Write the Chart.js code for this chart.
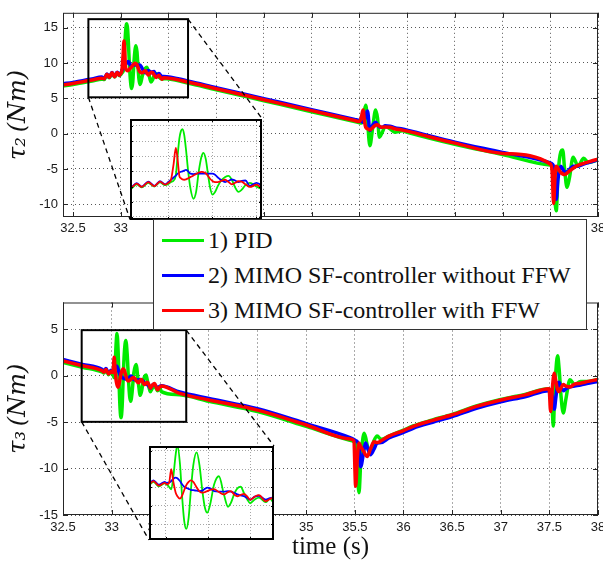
<!DOCTYPE html>
<html>
<head>
<meta charset="utf-8">
<script src="https://cdn.jsdelivr.net/npm/chart.js@4.4.1/dist/chart.umd.min.js"></script>
<style>
  html, body { margin: 0; padding: 0; background: #fff; overflow: hidden; }
  #fig { position: relative; width: 603px; height: 562px; overflow: hidden; background: #fff; }
  #fig canvas { position: absolute; }
  #legend { position: absolute; left: 153px; top: 219px; width: 432px; height: 109px;
            border: 1px solid #333; background: #fff; color: #111;
            font-family: "Liberation Serif", "Times New Roman", serif; font-size: 24px; }
  #legend .row { position: absolute; left: 0; height: 30px; line-height: 30px; white-space: nowrap; }
  #legend .row i { position: absolute; left: 8px; top: 14px; width: 42px; height: 3px; }
  #legend .row span { position: absolute; left: 54px; top: 0; }
</style>
</head>
<body>
<div id="fig">
  <canvas id="top" width="620" height="245" style="left:0;top:0;width:620px;height:245px"></canvas>
  <canvas id="bottom" width="620" height="312" style="left:0;top:250px;width:620px;height:312px"></canvas>
  <canvas id="insetTop"></canvas>
  <canvas id="insetBottom"></canvas>
  <div id="legend"></div>
</div>
<script>
// ---------- joint 2 torque τ2 (Nm) ----------
const t2 = [32.395, 32.5, 32.6, 32.7, 32.8,
  32.826, 32.856, 32.879, 32.909, 32.936, 32.962, 32.985, 33.0, 33.012, 33.024,
  33.034, 33.042, 33.05, 33.057, 33.064, 33.072, 33.08, 33.09, 33.1, 33.114,
  33.126, 33.138, 33.15, 33.159, 33.17, 33.18, 33.19, 33.2, 33.212, 33.225,
  33.24, 33.258, 33.273, 33.288, 33.303, 33.318, 33.333, 33.35, 33.37, 33.4,
  33.43, 33.45, 33.7, 34.0, 34.5, 35.0, 35.45, 35.5, 35.52, 35.539,
  35.553, 35.567, 35.585, 35.61, 35.64, 35.67, 35.69, 35.71, 35.74, 35.77,
  35.82, 35.87, 35.95, 36.0, 36.5, 37.0, 37.5, 37.52, 37.535, 37.55,
  37.563, 37.58, 37.61, 37.63, 37.65, 37.675, 37.7, 37.74, 37.79, 37.85,
  37.9, 38.0];
const pid2 = [6.75, 6.95, 7.2, 7.45, 7.7,
  7.65, 8.3, 7.9, 8.5, 8.0, 8.55, 8.2, 8.35, 8.6, 8.8,
  9.5, 12.0, 14.3, 15.3, 15.55, 14.8, 12.9, 10.0, 7.8, 6.4,
  7.3, 10.0, 11.9, 12.45, 11.6, 9.6, 7.8, 6.95, 7.3, 8.1,
  8.8, 9.25, 9.4, 8.9, 7.9, 7.3, 7.6, 8.2, 8.5, 8.0,
  7.7, 7.8, 7.15, 6.2, 4.65, 3.1, 1.7, 1.55, 1.5, 2.0,
  3.3, 4.0, 1.8, -1.7, 0.9, 3.35, 2.2, -0.5, 0.2, 1.0,
  0.7, 0.2, 0.4, 0.2, -1.5, -2.95, -4.45, -4.5, -5.0, -9.5,
  -10.9, -6.0, -2.6, -2.3, -5.0, -7.6, -6.3, -3.35, -4.6, -3.5,
  -4.1, -3.7];
const sfNoFfw2 = [7.05, 7.25, 7.5, 7.75, 8.0,
  7.8, 8.45, 8.0, 8.65, 8.1, 8.7, 8.3, 8.6, 8.9, 9.2,
  9.45, 9.7, 9.85, 9.95, 10.0, 10.1, 10.2, 10.0, 9.7, 9.65,
  9.7, 9.7, 9.7, 9.7, 9.7, 9.7, 9.7, 9.7, 9.55, 9.2,
  8.85, 8.6, 8.75, 8.95, 8.8, 8.6, 8.75, 8.8, 8.1, 8.5,
  8.1, 8.1, 7.45, 6.5, 4.95, 3.4, 2.0, 1.85, 1.75, 1.6,
  1.9, 2.6, 3.2, 0.45, 1.2, 1.6, 1.3, 0.95, 0.9, 1.1,
  1.05, 0.85, 0.65, 0.5, -1.2, -2.65, -4.15, -4.3, -4.8, -8.0,
  -9.3, -6.5, -4.6, -5.0, -5.5, -5.4, -5.1, -4.6, -4.6, -4.3,
  -4.1, -3.7];
const sfFfw2 = [6.9, 7.1, 7.35, 7.6, 7.85,
  7.75, 8.4, 7.95, 8.6, 8.05, 8.65, 8.25, 8.5, 8.9, 11.0,
  13.1, 11.6, 9.4, 9.1, 8.95, 8.9, 8.95, 9.1, 9.25, 9.45,
  9.65, 9.85, 9.95, 9.9, 9.75, 9.4, 9.0, 8.75, 8.6, 8.6,
  8.75, 8.9, 8.6, 8.3, 8.5, 8.7, 8.65, 8.3, 7.95, 8.25,
  7.7, 7.9, 7.3, 6.35, 4.8, 3.25, 1.85, 1.7, 2.3, 3.35,
  1.8, 0.9, 0.7, 0.55, 0.85, 1.2, 1.25, 1.05, 0.9, 0.95,
  0.9, 0.7, 0.5, 0.35, -1.35, -2.8, -4.3, -5.5, -9.9, -6.0,
  -4.6, -4.9, -5.5, -5.7, -5.8, -5.6, -5.3, -4.9, -4.5, -4.2,
  -4.0, -3.6];

// ---------- joint 3 torque τ3 (Nm) ----------
const t3 = [32.5, 32.7, 32.9,
  32.921, 32.942, 32.968, 32.995, 33.006, 33.016, 33.026, 33.036, 33.047, 33.055,
  33.067, 33.077, 33.087, 33.097, 33.108, 33.118, 33.13, 33.146, 33.16, 33.173,
  33.185, 33.196, 33.21, 33.228, 33.251, 33.275, 33.294, 33.307, 33.325, 33.338,
  33.354, 33.369, 33.385, 33.398, 33.42, 33.44, 33.472, 33.492, 33.511,
  33.7, 34.0, 34.5, 35.0, 35.45, 35.49, 35.509, 35.525, 35.543, 35.56,
  35.594, 35.61, 35.628, 35.66, 35.697, 35.73, 35.77, 35.85, 36.0, 36.1,
  36.3, 36.5, 36.75, 37.0, 37.25, 37.497, 37.513, 37.53, 37.541, 37.551,
  37.565, 37.585, 37.6, 37.62, 37.643, 37.67, 37.712, 37.76, 37.82, 37.9,
  38.0];
const pid3 = [1.45, 0.93, 0.42,
  0.3, 0.6, 0.12, 0.45, 0.3, 0.05, -0.2, 1.2, 3.6, 4.57,
  2.6, -0.9, -3.6, -4.5, -3.3, -0.5, 2.4, 3.8, 2.3, -0.4,
  -2.2, -2.74, -1.8, 0.3, 1.22, -0.8, -2.1, -1.7, -0.6, -0.1,
  0.08, -0.6, -1.3, -1.71, -1.3, -1.1, -1.6, -1.2, -1.7,
  -2.05, -2.75, -3.85, -5.45, -6.95, -7.1, -7.6, -10.0, -12.6, -9.5,
  -6.2, -6.6, -7.5, -8.2, -7.0, -6.5, -6.85, -6.5, -5.85, -5.4,
  -4.75, -4.15, -3.25, -2.55, -2.0, -1.4, -2.0, -3.8, -5.4, -3.0,
  0.2, 2.15, 0.8, -2.2, -4.0, -2.5, -0.43, -0.95, -0.6, -0.6,
  -0.4];
const sfNoFfw3 = [1.75, 1.23, 0.7,
  0.5, 0.78, 0.3, 0.6, 0.5, 0.55, 0.7, 0.95, 1.07, 1.0,
  0.7, 0.35, 0.08, -0.05, -0.15, -0.25, -0.3, -0.35, -0.4, -0.35,
  -0.15, -0.02, -0.1, -0.4, -0.45, -0.45, -0.4, -0.45, -0.6, -0.75,
  -0.85, -0.95, -1.15, -1.33, -1.0, -0.9, -1.33, -1.15, -1.07,
  -1.75, -2.45, -3.55, -5.15, -6.65, -6.85, -7.0, -7.1, -7.6, -9.8,
  -8.0, -7.25, -7.7, -8.5, -7.9, -7.25, -7.2, -6.7, -6.1, -5.65,
  -5.0, -4.4, -3.5, -2.8, -2.25, -1.6, -1.7, -2.2, -3.0, -3.6,
  -2.5, -0.9, -0.7, -1.2, -1.6, -1.4, -1.2, -1.1, -1.0, -0.8,
  -0.6];
const sfFfw3 = [1.6, 1.08, 0.56,
  0.38, 0.69, 0.19, 0.5, 0.35, 0.5, 2.0, 0.6, -0.57, -0.95,
  -1.22, -0.9, -0.3, 0.25, 0.6, 0.76, 0.6, 0.0, -0.45, -0.57,
  -0.5, -0.4, -0.25, -0.19, -0.5, -0.76, -0.5, -0.4, -0.8, -0.95,
  -0.8, -0.69, -1.0, -1.33, -1.0, -0.84, -1.5, -1.25, -1.1,
  -1.9, -2.6, -3.7, -5.3, -6.8, -7.0, -11.9, -9.0, -7.25, -7.6,
  -8.2, -8.5, -8.7, -7.9, -7.1, -7.2, -7.0, -6.5, -5.9, -5.45,
  -4.8, -4.2, -3.3, -2.6, -2.05, -1.4, -3.85, -1.5, -0.2, 0.28,
  -0.5, -1.5, -1.7, -1.3, -0.95, -1.1, -1.2, -0.9, -0.8, -0.6,
  -0.4];

// ---------- axis ticks ----------
const timeTicks = [32.5, 33, 33.5, 34, 34.5, 35, 35.5, 36, 36.5, 37, 37.5, 38];
const tau2Ticks = [-10, -5, 0, 5, 10, 15];
const tau3Ticks = [-15, -10, -5, 0, 5];
const insetTimeTicks = [33.0, 33.2, 33.4];
const insetTau2Ticks = [4, 6, 8, 10, 12, 14, 16];
const insetTau3Ticks = [-4, -2, 0, 2, 4];

const seriesNames = ['1) PID', '2) MIMO SF-controller without FFW', '3) MIMO SF-controller with FFW'];

// ---------- styling ----------
const GREEN = 'rgb(0,235,0)', BLUE = '#0000ff', RED = '#ff0000';
const seriesColors = [GREEN, BLUE, RED];
const GRID = 'rgba(30,30,30,0.75)';
const INSET_GRID = 'rgba(60,60,60,0.45)';
const SERIF = '"Liberation Serif", "Times New Roman", serif';
const MATH = '"DejaVu Serif", "Liberation Serif", serif';

// inset panels (page pixels)
const insetTopBox = {left: 130, top: 118.5, width: 132, height: 101};
const insetBottomBox = {left: 149, top: 446, width: 125, height: 94};

Chart.defaults.font.family = '"Liberation Sans", Arial, sans-serif';
Chart.defaults.color = '#1a1a1a';
Chart.defaults.animation = false;
Chart.defaults.events = [];
Chart.defaults.plugins.legend.display = false;
Chart.defaults.plugins.tooltip.enabled = false;

// axes box with inward tick marks, optional background
const framePlugin = {
  id: 'frame',
  defaults: {color: '#262626', width: 1, tick: 0, background: null},
  beforeDraw(chart, args, o) {
    if (!o.background) return;
    const {ctx, chartArea: a} = chart;
    ctx.save();
    ctx.fillStyle = o.background;
    ctx.fillRect(a.left, a.top, a.width, a.height);
    ctx.restore();
  },
  afterDraw(chart, args, o) {
    const {ctx, chartArea: a, scales: {x, y}} = chart;
    ctx.save();
    if (o.tick) {
      ctx.strokeStyle = o.color;
      ctx.lineWidth = 1;
      ctx.beginPath();
      x.ticks.forEach(tk => {
        const px = Math.round(x.getPixelForValue(tk.value)) + 0.5;
        ctx.moveTo(px, a.bottom); ctx.lineTo(px, a.bottom - o.tick);
        ctx.moveTo(px, a.top); ctx.lineTo(px, a.top + o.tick);
      });
      y.ticks.forEach(tk => {
        const py = Math.round(y.getPixelForValue(tk.value)) + 0.5;
        ctx.moveTo(a.left, py); ctx.lineTo(a.left + o.tick, py);
        ctx.moveTo(a.right, py); ctx.lineTo(a.right - o.tick, py);
      });
      ctx.stroke();
    }
    ctx.strokeStyle = o.color;
    ctx.lineWidth = o.width;
    const h = o.width / 2;
    ctx.strokeRect(a.left + h, a.top + h, a.width - o.width, a.height - o.width);
    ctx.restore();
  }
};

// zoom window marker with dashed leaders to the magnified panel
const zoomPlugin = {
  id: 'zoomMark',
  defaults: {box: null, inset: null, origin: [0, 0]},
  afterDraw(chart, args, o) {
    if (!o.box) return;
    const {ctx, scales: {x, y}} = chart;
    const [x0, x1, y0, y1] = o.box;
    const L = x.getPixelForValue(x0), R = x.getPixelForValue(x1);
    const T = y.getPixelForValue(y1), B = y.getPixelForValue(y0);
    const ins = o.inset, [ox, oy] = o.origin;
    ctx.save();
    ctx.strokeStyle = '#000';
    ctx.lineWidth = 1.3;
    ctx.setLineDash([5, 4]);
    ctx.beginPath();
    ctx.moveTo(R, T); ctx.lineTo(ins.left + ins.width - ox, ins.top - oy);
    ctx.moveTo(L, B); ctx.lineTo(ins.left - ox, ins.top + ins.height - oy);
    ctx.stroke();
    ctx.setLineDash([]);
    ctx.lineWidth = 2;
    ctx.strokeRect(L, T, R - L, B - T);
    ctx.restore();
  }
};
Chart.register(framePlugin, zoomPlugin);

function toPoints(t, v) { return t.map((x, i) => ({x, y: v[i]})); }

function lineSets(t, pid, noFfw, ffw, width) {
  const vals = [pid, noFfw, ffw];
  const order = [3, 2, 1];            // red drawn on top, green underneath
  return vals.map((v, i) => ({
    label: seriesNames[i],
    data: toPoints(t, v),
    borderColor: seriesColors[i],
    backgroundColor: seriesColors[i],
    borderWidth: width,
    pointRadius: 0,
    fill: false,
    order: order[i],
    cubicInterpolationMode: 'monotone',
    borderJoinStyle: 'round',
    borderCapStyle: 'round'
  }));
}

function fixedTicks(list) { return s => { s.ticks = list.map(v => ({value: v})); }; }

function mainChart(id, t, pid, noFfw, ffw, c) {
  return new Chart(document.getElementById(id), {
    type: 'line',
    data: {datasets: lineSets(t, pid, noFfw, ffw, 3.5)},
    options: {
      responsive: false,
      layout: {autoPadding: false, padding: {left: 0, right: 22, top: c.padTop, bottom: 0}},
      scales: {
        x: {
          type: 'linear', min: c.xMin, max: 38,
          afterBuildTicks: fixedTicks(timeTicks),
          afterFit: s => { s.height = c.xHeight; },
          ticks: {font: {size: 13}, padding: c.xPad, maxRotation: 0, callback: v => String(v)},
          grid: {color: GRID, drawTicks: false},
          border: {display: false, dash: [1, 3]},
          title: c.xTitle ? {display: true, text: c.xTitle, color: '#111',
                  font: {family: SERIF, size: 25}, padding: {top: 0, bottom: 0}} : {display: false}
        },
        y: {
          type: 'linear', min: c.yMin, max: c.yMax,
          afterBuildTicks: fixedTicks(c.yTicks),
          afterFit: s => { s.width = 63; },
          ticks: {font: {size: 13}, padding: 5, callback: v => String(v)},
          grid: {color: GRID, drawTicks: false},
          border: {display: false, dash: [1, 3]},
          title: {display: true, text: c.yTitle, color: '#111',
                  font: {family: MATH, size: 24, style: 'italic'}, padding: {top: 4, bottom: 0}}
        }
      },
      plugins: {
        frame: {color: '#262626', width: 1, tick: 5},
        zoomMark: {box: c.box, inset: c.inset, origin: c.origin}
      }
    }
  });
}

function insetChart(id, box, t, pid, noFfw, ffw, xr, yr, yTicks) {
  const el = document.getElementById(id);
  el.width = box.width; el.height = box.height;
  Object.assign(el.style, {left: box.left + 'px', top: box.top + 'px',
    width: box.width + 'px', height: box.height + 'px'});
  return new Chart(el, {
    type: 'line',
    data: {datasets: lineSets(t, pid, noFfw, ffw, 1.8)},
    options: {
      responsive: false,
      layout: {autoPadding: false, padding: 0},
      scales: {
        x: {
          type: 'linear', min: xr[0], max: xr[1],
          afterBuildTicks: fixedTicks(insetTimeTicks),
          afterFit: s => { s.height = 0; },
          ticks: {display: false},
          grid: {color: INSET_GRID, drawTicks: false},
          border: {display: false, dash: [1, 2]}
        },
        y: {
          type: 'linear', min: yr[0], max: yr[1],
          afterBuildTicks: fixedTicks(yTicks),
          afterFit: s => { s.width = 0; },
          ticks: {display: false},
          grid: {color: INSET_GRID, drawTicks: false},
          border: {display: false, dash: [1, 2]}
        }
      },
      plugins: {frame: {color: '#000', width: 2, tick: 3, background: '#fff'}}
    }
  });
}

mainChart('top', t2, pid2, sfNoFfw2, sfFfw2, {
  xMin: 32.395, yMin: -11.8, yMax: 17.1, yTicks: tau2Ticks, yTitle: 'τ₂\u2009(Nm)',
  padTop: 8, xHeight: 28, xPad: 4, xTitle: null,
  box: [32.661, 33.705, 5.14, 16.2], inset: insetTopBox, origin: [0, 0]
});
mainChart('bottom', t3, pid3, sfNoFfw3, sfFfw3, {
  xMin: 32.5, yMin: -15, yMax: 7.9, yTicks: tau3Ticks, yTitle: 'τ₃\u2009(Nm)',
  padTop: 52.5, xHeight: 47, xPad: 5, xTitle: 'time (s)',
  box: [32.692, 33.767, -4.96, 4.92], inset: insetBottomBox, origin: [0, 250]
});
insetChart('insetTop', insetTopBox, t2, pid2, sfNoFfw2, sfFfw2,
  [32.826, 33.425], [3.6, 16.9], insetTau2Ticks);
insetChart('insetBottom', insetBottomBox, t3, pid3, sfNoFfw3, sfFfw3,
  [32.921, 33.511], [-5.7, 4.5], insetTau3Ticks);

// legend
const legend = document.getElementById('legend');
seriesNames.forEach((name, i) => {
  const row = document.createElement('div');
  row.className = 'row';
  row.style.top = (5 + i * 35) + 'px';
  const sw = document.createElement('i');
  sw.style.background = seriesColors[i];
  const tx = document.createElement('span');
  tx.textContent = name;
  row.appendChild(sw); row.appendChild(tx);
  legend.appendChild(row);
});
</script>
</body>
</html>
